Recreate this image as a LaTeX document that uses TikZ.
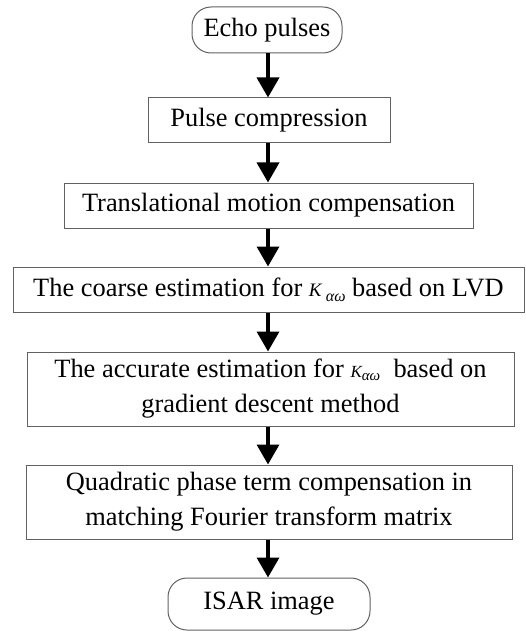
\documentclass[tikz,border=0pt]{standalone}
\usepackage{fontspec}
\setmainfont{Liberation Serif}
\usetikzlibrary{arrows.meta}

% K_{alpha omega} in two slightly different settings
\newcommand\kcoarse{{\fontsize{19}{19}\selectfont\itshape K}\,\raisebox{-5pt}{\fontsize{16}{16}\selectfont\itshape αω}}
\newcommand\kfine{{\fontsize{17}{17}\selectfont\itshape K}\raisebox{-3pt}{\fontsize{15}{15}\selectfont\itshape αω}}

\begin{document}
\begin{tikzpicture}[x=1pt,y=-1pt,
  font=\fontsize{26.4}{35}\selectfont,
  box/.style={draw=black!62, line width=1pt, inner sep=0pt, align=center},
  term/.style={box, rounded corners=19pt},
  flow/.style={line width=3.6pt, -{Triangle[length=20pt,width=22pt]}}]
\useasboundingbox (0,0) rectangle (525,631);

\node[term, minimum width=150pt, minimum height=46pt] (echo) at (267,30) {Echo pulses};
\node[box, minimum width=242pt, minimum height=45pt] (pulse) at (269,120.5) {Pulse compression};
\node[box, minimum width=409pt, minimum height=45pt] (trans) at (268.5,205.5) {Translational motion compensation};
\node[box, minimum width=511pt, minimum height=45pt] (coarse) at (268.5,289.5) {The coarse estimation for \kcoarse{} based on LVD};
\node[box, minimum width=487pt, minimum height=74pt] (acc) at (270.5,389) {The accurate estimation for \kfine{}\ \ based on\\gradient descent method};
\node[box, minimum width=486pt, minimum height=74pt] (quad) at (269,502) {Quadratic phase term compensation in\\matching Fourier transform matrix};
\node[term, minimum width=202pt, minimum height=52pt] (isar) at (269,604) {ISAR image};

\coordinate (ax) at (268,0);
\draw[flow] (echo.south -| ax) -- (pulse.north -| ax);
\draw[flow] (pulse.south -| ax) -- (trans.north -| ax);
\draw[flow] (trans.south -| ax) -- (coarse.north -| ax);
\draw[flow] (coarse.south -| ax) -- (acc.north -| ax);
\draw[flow] (acc.south -| ax) -- (quad.north -| ax);
\draw[flow] (quad.south -| ax) -- (isar.north -| ax);
\end{tikzpicture}
\end{document}
